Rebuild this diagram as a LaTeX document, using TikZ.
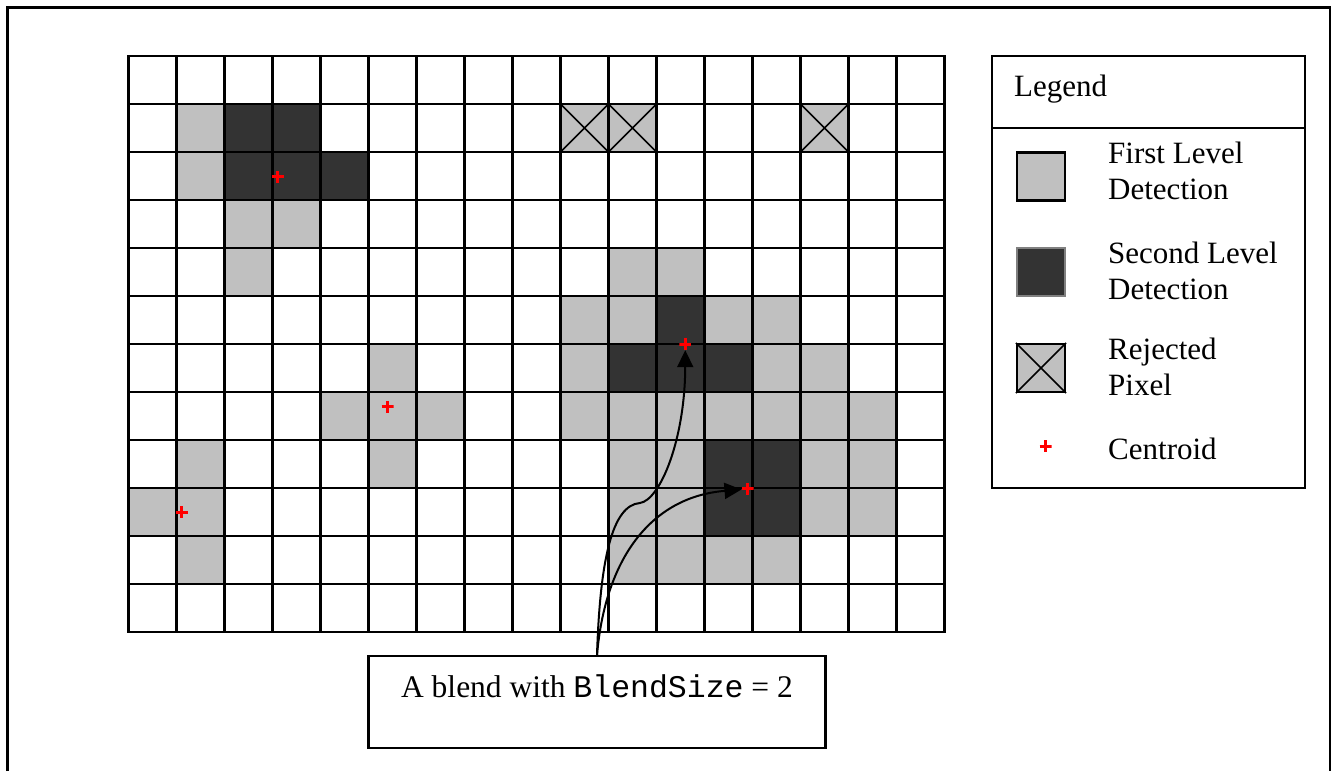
\documentclass[tikz,border=0pt]{standalone}
\usepackage{fontspec}
\setmainfont{Liberation Serif}
\setmonofont{Liberation Mono}
\usepackage{xcolor}
\usetikzlibrary{arrows.meta, positioning, calc}

\definecolor{firstlvl}{HTML}{C0C0C0}
\definecolor{secondlvl}{HTML}{333333}

\begin{document}
\begin{tikzpicture}[x=1pt, y=-1pt,
    light/.style={fill=firstlvl},
    dark/.style={fill=secondlvl},
    gridline/.style={line width=2.2pt, draw=black, line cap=rect},
    crossline/.style={line width=1.6pt, draw=black},
    frame/.style={line width=2.2pt, draw=black},
    centroid/.style={rectangle, inner sep=0pt, minimum size=12pt,
        path picture={\draw[red, line width=3pt]
            (path picture bounding box.north) -- (path picture bounding box.south)
            (path picture bounding box.west) -- (path picture bounding box.east);}},
    keybox/.style={rectangle, draw=black, line width=2.2pt, fill=firstlvl, minimum size=48pt, inner sep=0pt},
    keytext/.style={font=\fontsize{31}{36}\selectfont, inner sep=0pt, anchor=base west, align=left},
    blendbox/.style={rectangle, draw=black, line width=2.2pt, inner sep=0pt, minimum width=457pt,
        text height=41pt, text depth=51pt, font=\fontsize{31.5}{36}\selectfont},
    arr/.style={-{Triangle[length=17pt, width=16pt]}, line width=2pt}
]
    \useasboundingbox (0,0) rectangle (1335,771);

    % cadre extérieur (ouvert en bas)
    \draw[frame] (7.5,771) -- (7.5,7.5) -- (1330,7.5) -- (1330,771);

    % Grille des pixels : 17 x 12 cases
    \begin{scope}[shift={(128.5,56)}, x=48pt, y=-48pt]
        \foreach \c/\r in {1/1, 1/2, 2/3, 3/3, 2/4, 10/4, 11/4,
                           9/5, 10/5, 12/5, 13/5, 5/6, 9/6, 13/6, 14/6,
                           4/7, 5/7, 6/7, 9/7, 10/7, 11/7, 12/7, 13/7, 14/7, 15/7,
                           1/8, 5/8, 10/8, 11/8, 14/8, 15/8,
                           0/9, 1/9, 10/9, 11/9, 14/9, 15/9,
                           1/10, 10/10, 11/10, 12/10, 13/10,
                           9/1, 10/1, 14/1}
            \fill[light] (\c,\r) rectangle ++(1,1);
        \foreach \c/\r in {2/1, 3/1, 2/2, 3/2, 4/2, 11/5, 10/6, 11/6, 12/6,
                           12/8, 13/8, 12/9, 13/9}
            \fill[dark] (\c,\r) rectangle ++(1,1);

        \foreach \c in {0,...,17}
            \draw[gridline] (\c,0) -- (\c,12);
        \foreach \r in {0,...,12}
            \draw[gridline] (0,\r) -- (17,\r);

        % pixels rejetés
        \foreach \c/\r in {9/1, 10/1, 14/1}
            \draw[crossline] (\c,\r) -- ++(1,1) (\c+1,\r) -- ++(-1,1);

        % centroïdes
        \node[centroid] (cent_upper) at (3.11,2.52) {};
        \node[centroid] (cent_mid) at (5.40,7.31) {};
        \node[centroid] (cent_low) at (1.11,9.51) {};
        \node[centroid] (cent_blend_a) at (11.60,6.00) {};
        \node[centroid] (cent_blend_b) at (12.90,9.02) {};
    \end{scope}

    % Légende
    \draw[frame] (992,56) rectangle (1305,488);
    \draw[frame] (992,128.3) -- (1305,128.3);
    \node[keytext] (legend_title) at (1014,96.7) {Legend};

    \node[keybox] (key_first) at (1041,176.5) {};
    \node[keytext] (key_first_txt) at (1108,199) {First Level\\Detection};

    \node[keybox, fill=secondlvl, draw=gray] (key_second) at (1041,272) {};
    \node[keytext] (key_second_txt) at (1108,299) {Second Level\\Detection};

    \node[keybox] (key_reject) at (1041,368) {};
    \draw[crossline] (key_reject.north west) -- (key_reject.south east)
                     (key_reject.north east) -- (key_reject.south west);
    \node[keytext] (key_reject_txt) at (1108,395.7) {Rejected\\Pixel};

    \node[centroid] (key_cent) at (1045.7,446) {};
    \node[keytext] (key_cent_txt) at (1108,459) {Centroid};

    % Boîte d'annotation et flèches
    \node[blendbox, anchor=base] (blend_box) at (597,697.3) {A blend with \texttt{BlendSize} = 2};

    \draw[arr] (blend_box.north) .. controls (600,560) and (612,505) .. (640,503)
               .. controls (660,500) and (685,440) .. (cent_blend_a);
    \draw[arr] (blend_box.north) .. controls (605,560) and (650,497) .. (cent_blend_b);
\end{tikzpicture}
\end{document}
